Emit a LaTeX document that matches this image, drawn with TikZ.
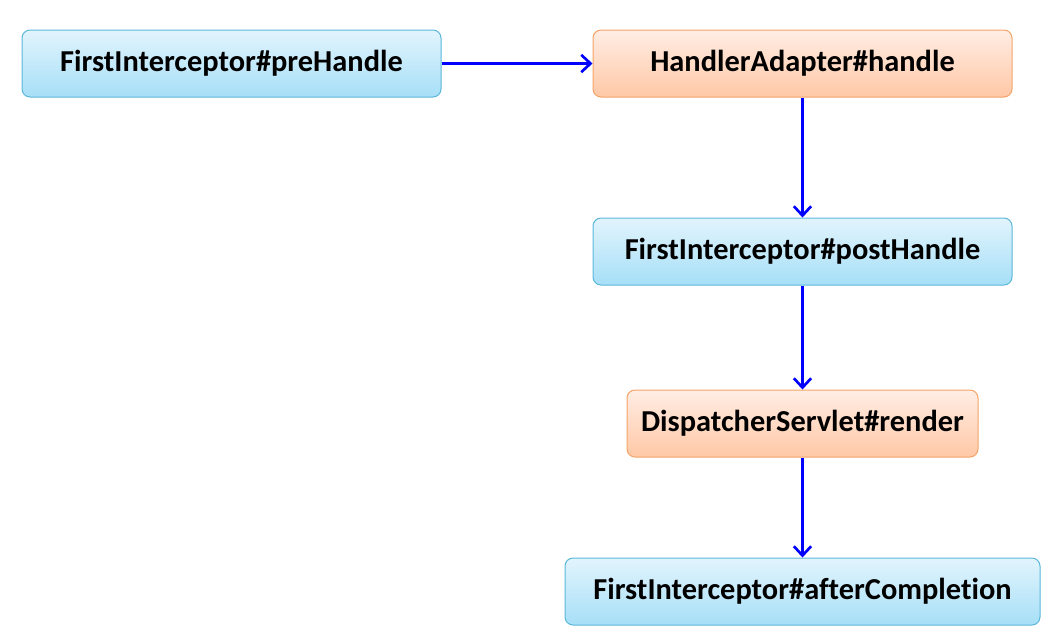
\documentclass[tikz,border=0pt]{standalone}
\usepackage{fontspec}
\setmainfont[Ligatures=NoCommon]{Carlito}
\usetikzlibrary{arrows.meta,positioning}
\definecolor{icblue}{HTML}{5AB7D9}
\definecolor{ictop}{HTML}{E2F4FD}
\definecolor{icbot}{HTML}{A6DFF7}
\definecolor{haorange}{HTML}{F4A468}
\definecolor{hatop}{HTML}{FFEDE4}
\definecolor{habot}{HTML}{FFC8A6}
\definecolor{flowblue}{HTML}{0000FF}

\begin{document}
\begin{tikzpicture}[
  x=0.75pt, y=-0.75pt,
  node distance=90pt and 114pt,
  step box/.style={
    draw, line width=0.75pt, rounded corners=6pt,
    font=\fontsize{22.8}{26}\selectfont\bfseries, align=center,
    minimum height=50.25pt, text=black},
  icept/.style={step box, draw=icblue, top color=ictop, bottom color=icbot},
  adapt/.style={step box, draw=haorange, top color=hatop, bottom color=habot},
  flow/.style={-{Straight Barb[length=7pt,width=13pt,line width=2pt]}, flowblue, line width=2.25pt},
]
  \useasboundingbox (0,0) rectangle (1058,637);

  %% ---- Boxes ----
  \node[icept, minimum width=314.25pt] (pre) at (231.5,63.5) {FirstInterceptor\#preHandle};
  \node[adapt, minimum width=314.25pt] (hadapt) at (802.5,63.5) {HandlerAdapter\#handle};
  \node[icept, minimum width=314.25pt, below=90pt of hadapt] (post) {FirstInterceptor\#postHandle};
  \node[adapt, minimum width=263.25pt, below=78pt of post] (render) {DispatcherServlet\#render};
  \node[icept, minimum width=356.25pt, below=75pt of render] (after) {FirstInterceptor\#afterCompletion};

  %% ---- Flow ----
  \draw[flow] (pre.east)     -- (hadapt.west);
  \draw[flow] (hadapt.south) -- (post.north);
  \draw[flow] (post.south)   -- (render.north);
  \draw[flow] (render.south) -- (after.north);

\end{tikzpicture}
\end{document}
